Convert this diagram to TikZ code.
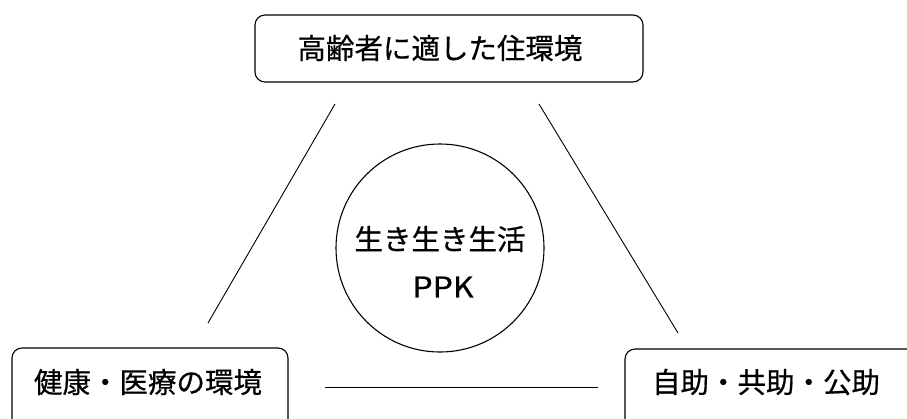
\documentclass[tikz,border=0pt]{standalone}
\usepackage{fontspec}
\setmainfont{Noto Sans CJK JP}[FakeBold=0.6]
\begin{document}
\begin{tikzpicture}[x=1pt,y=-1pt,
  box/.style={draw=black,line width=1.1pt,rounded corners=10pt,inner sep=0pt},
  lbl/.style={font=\fontsize{28.5}{32}\selectfont,inner sep=0pt},
  conn/.style={draw=black,line width=0.9pt}]
\useasboundingbox[fill=white] (0,0) rectangle (907,418);
\clip (0,0) rectangle (907,418);
% boxes
\node[box,minimum width=388pt,minimum height=67pt] (topbox) at (449,48.5) {};
\node[box,minimum width=276pt,minimum height=84pt] (leftbox) at (150,390) {};
\node[box,minimum width=300pt,minimum height=84pt] (rightbox) at (775,391) {};
\node[draw=black,line width=1.1pt,circle,minimum size=208pt,inner sep=0pt] (ppk) at (440,248) {};
% texts
\node[lbl] (toptext) at (440,48) {高齢者に適した住環境};
\node[lbl] (lefttext) at (148,382) {健康・医療の環境};
\node[lbl] (righttext) at (766,382) {自助・共助・公助};
\node[lbl] (ctext1) at (440,239) {生き生き生活};
\node[lbl,xscale=1.12] (ctext2) at (443,287) {PPK};
% connectors
\coordinate (l1) at (335,104);
\coordinate (l2) at (208,323);
\coordinate (r1) at (539,104);
\coordinate (r2) at (678,333);
\coordinate (b1) at (325,387);
\coordinate (b2) at (598,387);
\draw[conn] (l1) -- (l2);
\draw[conn] (r1) -- (r2);
\draw[conn] (b1) -- (b2);
\end{tikzpicture}
\end{document}
